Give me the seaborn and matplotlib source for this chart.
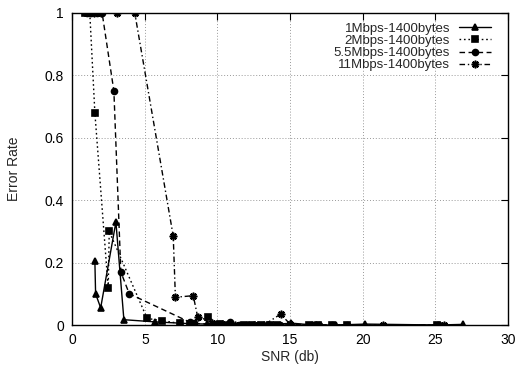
import pandas as pd
import matplotlib
matplotlib.use('Agg')
import matplotlib.pyplot as plt
import seaborn as sns

# error rate vs SNR
snr_1m = [1.55, 1.6, 1.95, 3.0, 3.55, 5.7, 7.4, 8.2, 9.3, 10.2, 11.0, 12.2, 13.4,
          15.1, 16.6, 18.2, 20.2, 25.2, 26.9]
err_1m = [0.205, 0.10, 0.055, 0.33, 0.017, 0.01, 0.006, 0.004, 0.003, 0.002, 0.001,
          0.0, 0.0, 0.006, 0.0, 0.0, 0.003, 0.0, 0.002]

snr_2m = [0.9, 1.05, 1.2, 1.55, 2.47, 2.54, 5.15, 6.2, 7.4, 8.1, 9.35, 10.2, 10.8,
          11.8, 12.4, 13.0, 13.6, 14.1, 16.3, 16.9, 17.9, 18.9, 25.1]
err_2m = [1.0, 1.0, 1.0, 0.68, 0.118, 0.30, 0.021, 0.014, 0.005, 0.004, 0.025, 0.002,
          0.001, 0.0, 0.0, 0.0, 0.0, 0.0, 0.0, 0.0, 0.0, 0.0, 0.0]

snr_55m = [1.0, 1.3, 1.7, 2.05, 2.86, 3.34, 3.92, 8.1, 8.4, 10.0, 10.86, 11.5, 12.0,
           12.8, 13.5, 14.3, 16.5, 17.0, 17.9, 18.9, 25.3]
err_55m = [1.0, 1.0, 1.0, 1.0, 0.75, 0.17, 0.10, 0.009, 0.005, 0.002, 0.009, 0.001,
           0.0, 0.0, 0.0, 0.0, 0.0, 0.0, 0.0, 0.0, 0.0]

snr_11m = [1.5, 2.0, 3.05, 4.3, 6.95, 7.1, 8.33, 8.63, 9.6, 10.3, 11.2, 12.5, 13.2,
           14.35, 15.0, 16.8, 21.4, 25.6]
err_11m = [1.0, 1.0, 1.0, 1.0, 0.285, 0.089, 0.094, 0.027, 0.005, 0.002, 0.001, 0.0,
           0.0, 0.035, 0.003, 0.0, 0.0, 0.0]

labels = ['1Mbps-1400bytes', '2Mbps-1400bytes', '5.5Mbps-1400bytes', '11Mbps-1400bytes']

sns.set_theme(style='white')
plt.rcParams['font.family'] = ['Liberation Sans', 'DejaVu Sans']

fig = plt.figure(figsize=(5.17, 3.66), dpi=100)
ax = fig.add_axes([0.140, 0.112, 0.842, 0.8525])

series = [
    (snr_1m, err_1m, '^', '-', 4.0),
    (snr_2m, err_2m, 's', (0, (1.2, 2.0)), 5.0),
    (snr_55m, err_55m, 'o', (0, (4, 2.5)), 4.3),
    (snr_11m, err_11m, (8, 2, 0), (0, (4, 2, 1, 2)), 5.5),
]

for (xs, ys, mk, ls, ms), lab in zip(series, labels):
    df = pd.DataFrame({'snr': xs, 'err': ys})
    sns.lineplot(data=df, x='snr', y='err', sort=False, estimator=None, ax=ax,
                 color='black', linestyle=ls, linewidth=1.0, marker=mk,
                 markersize=ms, markeredgecolor='black', markerfacecolor='black',
                 markeredgewidth=1.2, label=lab)

ax.set_xlim(0, 30)
ax.set_ylim(0, 1)
ax.set_xticks([0, 5, 10, 15, 20, 25, 30])
ax.set_yticks([0, 0.2, 0.4, 0.6, 0.8, 1.0])
ax.set_yticklabels(['0', '0.2', '0.4', '0.6', '0.8', '1'])
ax.tick_params(direction='in', top=True, right=True, length=5, width=0.8,
               labelsize=10, colors='black', pad=6)
ax.grid(True, color='#999999', linestyle=(0, (1, 2)), linewidth=0.7)
for sp in ax.spines.values():
    sp.set_color('black')
    sp.set_linewidth(1.0)

ax.set_xlabel('SNR (db)', fontsize=10, labelpad=2)
ax.set_ylabel('Error Rate', fontsize=10, labelpad=17)

leg = ax.legend(loc='upper right', frameon=False, markerfirst=False, fontsize=9.5,
                handlelength=2.4, labelspacing=0.0, handletextpad=0.7,
                borderaxespad=0.2, bbox_to_anchor=(0.98, 0.995))
# right-align the legend entries like gnuplot does
for col in leg._legend_box._children[-1]._children:
    col.align = 'right'

fig.savefig('out.png', dpi=100)
